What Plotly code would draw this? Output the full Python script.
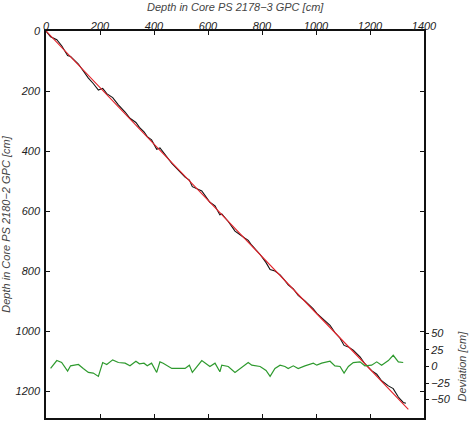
import plotly.graph_objects as go

# Red (reference / fitted) correlation line: PS2178-3 depth vs PS2180-2 depth
red_x = [0, 60, 120, 180, 260, 400, 550, 700, 850, 1000, 1150, 1250, 1342]
red_y = [0, 57, 112, 168, 246, 377, 517, 659, 800, 940, 1080, 1175, 1261]

# Black (tie-point) correlation line
black_x = [0, 17, 40, 58, 80, 91, 120, 138, 157, 175, 194, 210, 225, 247, 268, 293, 311,
           333, 346, 363, 375, 391, 410, 422, 434, 466, 515, 531, 542, 577, 607, 626, 644,
           651, 675, 700, 737, 749, 762, 793, 815, 830, 848, 867, 885, 897, 916, 934, 959,
           990, 1003, 1021, 1052, 1070, 1089, 1104, 1120, 1138, 1163, 1181, 1206, 1225,
           1243, 1268, 1286, 1305, 1323, 1333]
black_y = [0, 19, 29, 49, 82, 85, 110, 133, 157, 175, 197, 191, 209, 222, 246, 270, 291,
           305, 321, 336, 352, 363, 394, 390, 403, 441, 487, 497, 519, 533, 571, 583, 613,
           610, 635, 667, 691, 698, 714, 745, 772, 795, 800, 813, 832, 846, 860, 881, 900,
           926, 941, 955, 981, 1005, 1024, 1048, 1053, 1064, 1086, 1109, 1132, 1144,
           1166, 1183, 1192, 1220, 1238, 1241]

# Deviation (green)
dev_x = [17, 40, 58, 80, 91, 120, 138, 157, 175, 194, 210, 225, 247, 268, 293, 311, 333,
         346, 363, 375, 391, 410, 422, 434, 466, 515, 531, 542, 577, 607, 626, 644, 651,
         675, 700, 737, 749, 762, 793, 815, 830, 848, 867, 885, 897, 916, 934, 959, 990,
         1003, 1021, 1052, 1070, 1089, 1104, 1120, 1138, 1163, 1181, 1206, 1225, 1243,
         1268, 1286, 1305, 1323]
dev_y = [-3, 9, 6, -7, 1, 3, -3, -9, -10, -15, 6, 3, 10, 6, 5, 1, 8,
         4, 5, 1, 5, -9, 7, 5, -3, -3, 2, -9, 9, 0, 5, -8, 2,
         0, -9, 2, 6, 2, 0, -6, -15, -3, 2, 0, -3, 1, -3, 1, 5,
         2, 5, 8, 1, 0, -10, 0, 6, 7, 1, 2, 7, 2,
         9, 17, 7, 6]

x_ticks = [0, 200, 400, 600, 800, 1000, 1200, 1400]
y_ticks = [0, 200, 400, 600, 800, 1000, 1200]
dev_ticks = [-50, -25, 0, 25, 50]

FONT = "Liberation Sans, Arial, sans-serif"
tickfont = dict(family=FONT, size=11, color="#222", style="italic")
titlefont = dict(family=FONT, size=11, color="#444", style="italic")

fig = go.Figure()
fig.add_trace(go.Scatter(x=black_x, y=black_y, mode="lines",
                         line=dict(color="#111111", width=1.1), showlegend=False))
fig.add_trace(go.Scatter(x=red_x, y=red_y, mode="lines",
                         line=dict(color="#e3242b", width=1.1), showlegend=False))
fig.add_trace(go.Scatter(x=dev_x, y=dev_y, mode="lines", yaxis="y2",
                         line=dict(color="#2e9a2e", width=1.2), showlegend=False))

fig.update_layout(
    width=469, height=426,
    margin=dict(l=46, r=45, t=31, b=8, autoexpand=False),
    paper_bgcolor="white", plot_bgcolor="white",
    xaxis=dict(
        side="top", range=[0, 1400], tickvals=x_ticks,
        ticks="inside", ticklen=4, tickcolor="#111", tickwidth=1,
        showline=True, linecolor="#111", linewidth=1.5, mirror="ticks",
        showgrid=False, zeroline=False, tickfont=tickfont, ticklabelstandoff=-5,
    ),
    yaxis=dict(
        range=[1290, 0], tickvals=y_ticks,
        ticks="inside", ticklen=4, tickcolor="#111", tickwidth=1,
        showline=True, linecolor="#111", linewidth=1.5, mirror="ticks",
        showgrid=False, zeroline=False, tickfont=tickfont, ticklabelstandoff=2,
        title=dict(text="Depth in Core PS 2180\u22122 GPC [cm]", font=titlefont, standoff=4),
    ),
    yaxis2=dict(
        overlaying="y", side="right", range=[-78, 508], tickvals=dev_ticks,
        ticks="outside", ticklen=4, tickcolor="#111", tickwidth=1,
        showline=False, showgrid=False, zeroline=False, tickfont=tickfont,
    ),
    annotations=[
        dict(text="Deviation [cm]", textangle=-90, font=titlefont,
             xref="paper", x=1.0, xanchor="center", xshift=38,
             yref="y2", y=0, yanchor="middle", showarrow=False),
        dict(text="Depth in Core PS 2178\u22123 GPC [cm]", font=titlefont,
             xref="paper", x=0.5, xanchor="center",
             yref="paper", y=1.0, yanchor="middle", yshift=24, showarrow=False),
    ],
)

fig.write_html("out.html")
